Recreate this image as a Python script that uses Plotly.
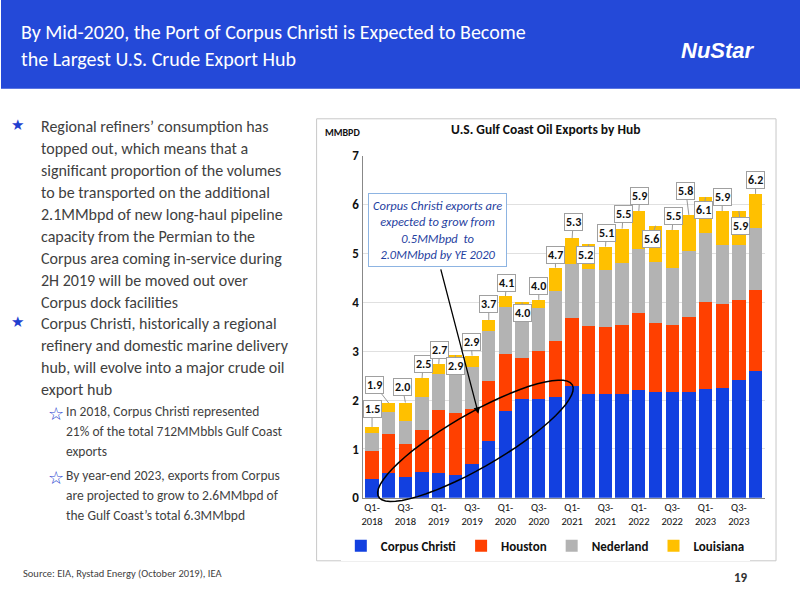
import plotly.graph_objects as go
import numpy as np

quarters = [f"Q{q}-{y}" for y in range(2018, 2024) for q in range(1, 5)]
tick_labels = [f"Q{q}-<br>{y}" if q in (1, 3) else "" for y in range(2018, 2024) for q in range(1, 5)]
corpus = [0.38,0.50,0.43,0.52,0.51,0.46,0.69,1.17,1.78,2.02,2.03,2.07,2.28,2.13,2.12,2.13,2.20,2.17,2.16,2.17,2.22,2.24,2.41,2.60]
houston = [0.57,0.80,0.67,0.87,1.28,1.27,1.13,1.22,1.16,0.85,0.98,1.13,1.39,1.38,1.37,1.40,1.58,1.40,1.37,1.54,1.78,1.72,1.64,1.65]
nederland = [0.37,0.46,0.48,0.68,0.75,1.16,0.86,1.03,0.97,1.06,0.87,1.04,1.11,1.18,1.17,1.27,1.32,1.25,1.17,1.35,1.43,1.22,1.12,1.28]
louisiana = [0.13,0.18,0.37,0.38,0.20,0.03,0.23,0.22,0.22,0.07,0.17,0.47,0.53,0.50,0.48,0.71,0.77,0.75,0.78,0.73,0.72,0.69,0.70,0.69]
total_labels = ["1.5","1.9","2.0","2.5","2.7","2.9","2.9","3.7","4.1","4.0","4.0","4.7","5.3","5.2","5.1","5.5","5.9","5.6","5.5","5.8","6.1","5.9","5.9","6.2"]
label_dx = [0,-14,-3,1,1,0,-1,0,1,0,0,0,1,-3,1,1,1,-4,1,-3,-2,0,2,0]
label_dy = [-18,-18,-16,-14,-14,11,-14,-16,-13,11,-14,-13,-16,11,-14,-15,-15,13,-14,-24,13,-14,15,-14]

W, H = 800, 600
def px(x): return x / W
def py(y): return 1 - ((y - 6.2) / 0.975) / H

fig = go.Figure()
series = [("Corpus Christi", corpus, "#1240E0"), ("Houston", houston, "#FF4000"),
          ("Nederland", nederland, "#B3B3B3"), ("Louisiana", louisiana, "#FFC000")]
for name, vals, col in series:
    fig.add_bar(x=quarters, y=vals, name=f"<b>{name}</b>", marker=dict(color=col, line=dict(width=0)))

totals = np.sum([corpus, houston, nederland, louisiana], axis=0)
ann = []
for i, q in enumerate(quarters):
    ann.append(dict(x=q, y=totals[i], xref="x", yref="y", text=f"<b>{total_labels[i]}</b>",
                    showarrow=True, arrowhead=0, arrowcolor="#999", arrowwidth=1,
                    ax=label_dx[i], ay=label_dy[i], bgcolor="white", bordercolor="#A0A0A0",
                    borderwidth=1, borderpad=1, font=dict(size=12, color="#111", family="Carlito, Calibri, Liberation Sans")))

def t(x, y, text, size=15, color="#3F3F3F", bold=False, xa="left", family="Carlito, Calibri, Open Sans"):
    ann.append(dict(x=px(x), y=py(y), xref="paper", yref="paper", text=f"<b>{text}</b>" if bold else text,
                    showarrow=False, xanchor=xa, yanchor="middle", font=dict(size=size, color=color, family=family)))

t(18, 31, "By Mid-2020, the Port of Corpus Christi is Expected to Become", 20, "white")
t(18, 58, "the Largest U.S. Crude Export Hub", 20, "white")
t(718, 50, "<i>NuStar</i>", 22, "white", True, xa="center", family="Liberation Sans")

main1 = ["Regional refiners’ consumption has", "topped out, which means that a",
         "significant proportion of the volumes", "to be transported on the additional",
         "2.1MMbpd of new long-haul pipeline", "capacity from the Permian to the",
         "Corpus area coming in-service during", "2H 2019 will be moved out over", "Corpus dock facilities"]
for k, line in enumerate(main1):
    t(38, 126 + 22 * k, line, 16)
main2 = ["Corpus Christi, historically a regional", "refinery and domestic marine delivery",
         "hub, will evolve into a major crude oil", "export hub"]
for k, line in enumerate(main2):
    t(38, 323 + 22 * k, line, 16)
t(8, 124, "★", 15, "#1F3FD0"); t(8, 321, "★", 15, "#1F3FD0")
sub1 = ["In 2018, Corpus Christi represented", "21% of the total 712MMbbls Gulf Coast", "exports"]
sub2 = ["By year-end 2023, exports from Corpus", "are projected to grow to 2.6MMbpd of", "the Gulf Coast’s total 6.3MMbpd"]
for k, line in enumerate(sub1):
    t(63, 411 + 20 * k, line, 13.5)
for k, line in enumerate(sub2):
    t(63, 475 + 20 * k, line, 13.5)
t(45, 413, "☆", 18, "#1F3FD0"); t(45, 477, "☆", 18, "#1F3FD0")
t(20, 573, "Source: EIA, Rystad Energy (October 2019), IEA", 10.5)
t(750, 577, "19", 13, "#333", True, xa="right")
t(545, 129, "U.S. Gulf Coast Oil Exports by Hub", 13.5, "#111", True, xa="center")
t(322, 132, "MMBPD", 10, "#111", True)
ann.append(dict(x=px(437), y=py(229), xref="paper", yref="paper",
                text="<i>Corpus Christi exports are<br>expected to grow from<br>0.5MMbpd  to<br>2.0MMbpd by YE 2020</i>",
                showarrow=False, font=dict(size=12.5, color="#1F3F9F", family="Carlito, Calibri, Open Sans"),
                bgcolor="white", bordercolor="#8DB4E2", borderwidth=1, borderpad=4))
ann.append(dict(x=px(478), y=py(413), ax=-38, ay=-146, xref="paper", yref="paper",
                axref="pixel", ayref="pixel", showarrow=True, arrowhead=2, arrowwidth=1.3,
                arrowcolor="black", text=""))

shapes = [
    dict(type="rect", xref="paper", yref="paper", x0=0, x1=1, y0=py(88), y1=1.02,
         fillcolor="#2449D8", line=dict(width=0), layer="below"),
    dict(type="rect", xref="paper", yref="paper", x0=px(316), x1=px(776), y0=py(560), y1=py(118),
         line=dict(color="#C8C8C8", width=1), layer="below"),
]
th = np.linspace(0, 2 * np.pi, 60)
cx, cy, a, b, ang = 475, 440, 112, 27, np.deg2rad(-30)
xs = cx + a * np.cos(th) * np.cos(ang) - b * np.sin(th) * np.sin(ang)
ys = cy + a * np.cos(th) * np.sin(ang) + b * np.sin(th) * np.cos(ang)
path = "M " + " L ".join(f"{px(x):.4f},{py(y):.4f}" for x, y in zip(xs, ys)) + " Z"
shapes.append(dict(type="path", xref="paper", yref="paper", path=path, line=dict(color="black", width=1.5)))

fig.update_layout(
    width=W, height=H, barmode="stack", bargap=0.2, paper_bgcolor="white", plot_bgcolor="white",
    margin=dict(l=0, r=0, t=0, b=0), annotations=ann, shapes=shapes,
    font=dict(family="Carlito, Calibri, Open Sans", color="#111"),
    xaxis=dict(domain=[px(362), px(765)], tickmode="array", tickvals=quarters, ticktext=tick_labels,
               tickangle=0, tickfont=dict(size=10.5), showline=True,
               linecolor="#888", ticks="", tickprefix="<b>", ticksuffix="</b>"),
    yaxis=dict(domain=[py(497), py(155)], range=[0, 7], dtick=1, showgrid=True, gridcolor="#E0E0E0",
               showline=True, linecolor="#888", tickfont=dict(size=13),
               tickprefix="<b>", ticksuffix="</b>"),
    legend=dict(orientation="h", x=px(545), xanchor="center", y=py(545), yanchor="middle",
                font=dict(size=13), traceorder="normal"),
)
fig.write_html("out.html", config={"displayModeBar": False},
               post_script="document.body.style.margin='0';document.body.style.padding='0';")
